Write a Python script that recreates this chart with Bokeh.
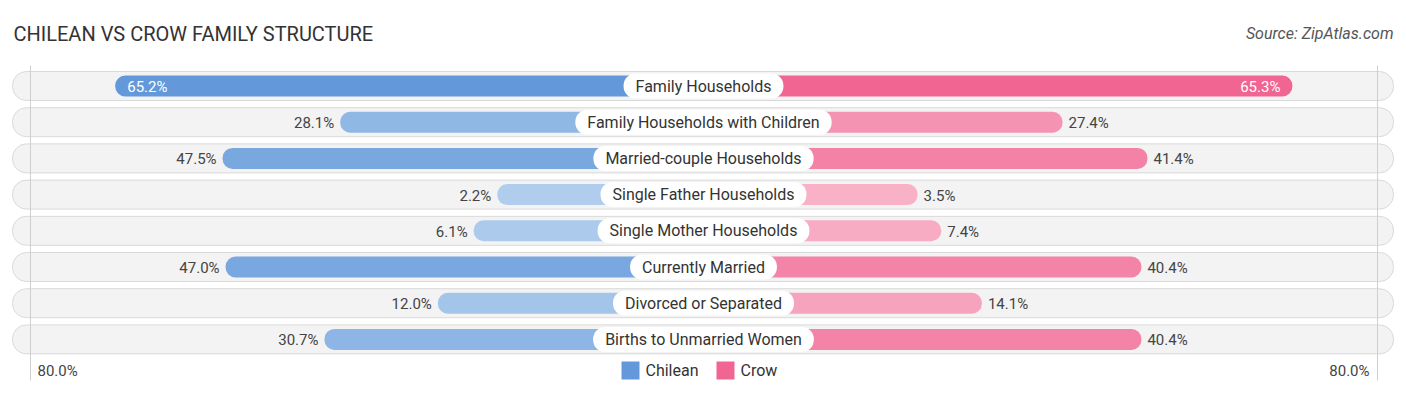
from bokeh.plotting import figure
from bokeh.models import Range1d, Label, ColumnDataSource
from bokeh.embed import file_html
from bokeh.resources import INLINE

categories = ["Family Households", "Family Households with Children", "Married-couple Households",
              "Single Father Households", "Single Mother Households", "Currently Married",
              "Divorced or Separated", "Births to Unmarried Women"]
chilean = [65.2, 28.1, 47.5, 2.2, 6.1, 47.0, 12.0, 30.7]
crow = [65.3, 27.4, 41.4, 3.5, 7.4, 40.4, 14.1, 40.4]
axis_max_label = "80.0%"
series_names = ["Chilean", "Crow"]

W, H = 1406, 395
CENTER_PX = 703.0
SCALE = 6.065          # px per percentage point
OFF = 31.8             # bar offset (data units) hidden behind the label pill
ROW0, ROW_STEP = 85.5, 36.2
FONT = "Roboto"

def px2x(px):
    return (px - CENTER_PX) / SCALE

def mix(c1, c2, t):
    a = [int(c1[i:i + 2], 16) for i in (1, 3, 5)]
    b = [int(c2[i:i + 2], 16) for i in (1, 3, 5)]
    return "#" + "".join("%02x" % round(a[k] + (b[k] - a[k]) * t) for k in range(3))

p = figure(width=W, height=H, x_range=Range1d(px2x(0), px2x(W)), y_range=Range1d(H, 0),
           output_backend="svg", toolbar_location=None, min_border=0)
p.axis.visible = False
p.grid.visible = False
p.outline_line_color = None
p.background_fill_color = "white"
p.border_fill_color = "white"

n = len(categories)
ys = [ROW0 + i * ROW_STEP for i in range(n)]

# row backgrounds
p.hbar(y=ys, left=px2x(12), right=px2x(1393), height=29, fill_color="#f3f3f3",
       line_color="#d9d9d9", line_width=1, border_radius=14)

# vertical reference lines
p.segment(x0=[px2x(30), px2x(1377)], y0=[65, 65], x1=[px2x(30), px2x(1377)], y1=[380, 380],
          line_color="#cfcfcf", line_width=1)

cl_colors = [mix("#b3cfee", "#6399da", min(v / 65.0, 1)) for v in chilean]
cr_colors = [mix("#f8b5c9", "#f06592", min(v / 65.0, 1)) for v in crow]

src = ColumnDataSource(dict(y=ys, cl_left=[-(OFF + v) for v in chilean],
                            cr_right=[OFF + v for v in crow], clc=cl_colors, crc=cr_colors))
p.hbar(y="y", left="cl_left", right=0, height=21, fill_color="clc", line_color=None,
       border_radius=10, source=src)
p.hbar(y="y", left=0, right="cr_right", height=21, fill_color="crc", line_color=None,
       border_radius=10, source=src)

# value labels
for i in range(n):
    v = chilean[i]
    inside = v > 60
    xl = -(OFF + v)
    p.add_layout(Label(x=xl + (12 / SCALE if inside else -6 / SCALE), y=ys[i] + 1,
                       text="%.1f%%" % v, text_align="left" if inside else "right",
                       text_baseline="middle", text_font=FONT, text_font_size="15px",
                       text_color="white" if inside else "#444444"))
    v = crow[i]
    inside = v > 60
    xr = OFF + v
    p.add_layout(Label(x=xr + (-12 / SCALE if inside else 6 / SCALE), y=ys[i] + 1,
                       text="%.1f%%" % v, text_align="right" if inside else "left",
                       text_baseline="middle", text_font=FONT, text_font_size="15px",
                       text_color="white" if inside else "#444444"))
    # category pill
    p.add_layout(Label(x=0, y=ys[i], text=categories[i], text_align="center", text_baseline="middle",
                       text_font=FONT, text_font_size="16px", text_color="#333333",
                       background_fill_color="white", border_radius=12,
                       padding=dict(left=12, right=12, top=3, bottom=3)))

# title & source
p.add_layout(Label(x=13, x_units="screen", y=33, text="CHILEAN VS CROW FAMILY STRUCTURE",
                   text_baseline="middle", text_font=FONT, text_font_size="20px",
                   text_color="#333333"))
p.add_layout(Label(x=1393, x_units="screen", y=33, text="Source: ZipAtlas.com", text_align="right",
                   text_baseline="middle", text_font=FONT, text_font_size="16px",
                   text_font_style="italic", text_color="#555555"))

# axis labels
p.add_layout(Label(x=37, x_units="screen", y=370, text=axis_max_label, text_baseline="middle",
                   text_font=FONT, text_font_size="15px", text_color="#444444"))
p.add_layout(Label(x=1369, x_units="screen", y=370, text=axis_max_label, text_align="right",
                   text_baseline="middle", text_font=FONT, text_font_size="15px",
                   text_color="#444444"))

# legend
p.scatter(x=[px2x(630), px2x(725)], y=[370, 370], marker="square", size=18,
          fill_color=["#6399da", "#f06592"], line_color=None)
p.add_layout(Label(x=645, x_units="screen", y=370, text=series_names[0], text_baseline="middle",
                   text_font=FONT, text_font_size="16px", text_color="#333333"))
p.add_layout(Label(x=740, x_units="screen", y=370, text=series_names[1], text_baseline="middle",
                   text_font=FONT, text_font_size="16px", text_color="#333333"))

open("out.html", "w").write(file_html(p, INLINE))
